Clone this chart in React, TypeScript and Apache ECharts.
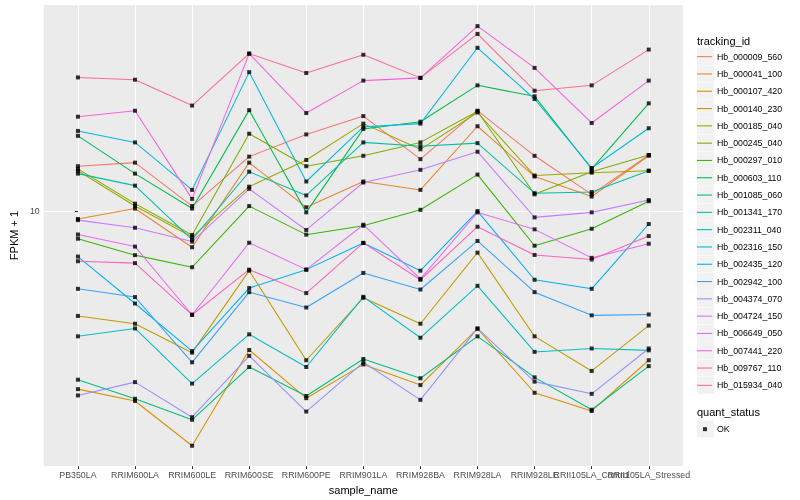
import React, { useEffect, useRef } from "react";
import * as echarts from "echarts";

const categories = [
  "PB350LA", "RRIM600LA", "RRIM600LE", "RRIM600SE", "RRIM600PE", "RRIM901LA",
  "RRIM928BA", "RRIM928LA", "RRIM928LE", "RRII105LA_Control", "RRII105LA_Stressed",
];

const hb_000009_560 = [14.2, 14.6, 10.4, 15.3, 18.2, 21.0, 15.0, 21.9, 15.4, 11.4, 15.5];
const hb_000041_100 = [9.4, 10.2, 7.54, 14.6, 10.3, 12.6, 11.8, 19.4, 13.1, 11.2, 15.4];
const hb_000107_420 = [2.49, 2.27, 1.6, 3.38, 2.32, 3.02, 2.57, 3.99, 2.42, 2.1, 3.12];
const hb_000140_230 = [4.41, 4.15, 3.31, 6.28, 3.12, 5.08, 4.15, 7.23, 3.76, 2.87, 4.09];
const hb_000185_040 = [13.7, 10.4, 8.17, 12.1, 14.9, 19.8, 16.2, 21.6, 13.2, 13.5, 13.7];
const hb_000245_040 = [13.9, 10.6, 8.3, 18.3, 14.2, 15.4, 17.1, 21.8, 11.4, 13.6, 15.5];
const hb_000297_010 = [8.06, 7.09, 6.45, 10.4, 8.32, 8.92, 10.1, 13.3, 7.63, 8.71, 10.8];
const hb_000603_110 = [18.0, 13.4, 10.2, 22.0, 9.9, 19.0, 20.1, 26.7, 24.5, 13.9, 23.2];
const hb_001085_060 = [2.68, 2.31, 1.96, 2.96, 2.36, 3.15, 2.71, 3.76, 2.73, 2.12, 2.98];
const hb_001341_170 = [13.4, 12.2, 8.0, 13.6, 11.3, 17.1, 16.6, 17.0, 11.5, 11.6, 13.7];
const hb_002311_040 = [3.76, 4.0, 2.6, 3.82, 2.96, 5.12, 3.72, 5.58, 3.33, 3.42, 3.37];
const hb_002316_150 = [18.7, 17.1, 11.8, 29.6, 12.6, 19.3, 19.8, 35.8, 24.0, 14.0, 19.1];
const hb_002435_120 = [7.01, 4.86, 3.35, 5.48, 6.33, 7.8, 6.28, 10.0, 5.85, 5.45, 9.04];
const hb_002942_100 = [5.45, 5.11, 3.07, 5.31, 4.71, 6.17, 5.42, 7.92, 5.31, 4.43, 4.46];
const hb_004374_070 = [2.37, 2.63, 2.0, 3.23, 2.09, 3.07, 2.29, 4.0, 2.64, 2.4, 3.42];
const hb_004724_150 = [9.32, 8.78, 7.88, 11.9, 8.63, 12.5, 13.8, 15.9, 9.52, 9.9, 10.9];
const hb_006649_050 = [8.33, 7.58, 4.45, 7.81, 6.33, 8.99, 5.89, 9.9, 8.67, 6.94, 7.75];
const hb_007441_220 = [20.9, 21.9, 11.0, 34.2, 21.5, 27.7, 28.3, 42.4, 30.6, 19.9, 27.7];
const hb_009767_110 = [6.76, 6.66, 4.45, 6.33, 5.27, 7.8, 5.85, 8.85, 7.1, 6.85, 8.23];
const hb_015934_040 = [28.4, 27.9, 22.8, 34.2, 29.4, 33.9, 28.3, 39.9, 25.6, 26.7, 35.3];

const trackingIds = [
  "Hb_000009_560", "Hb_000041_100", "Hb_000107_420", "Hb_000140_230", "Hb_000185_040",
  "Hb_000245_040", "Hb_000297_010", "Hb_000603_110", "Hb_001085_060", "Hb_001341_170",
  "Hb_002311_040", "Hb_002316_150", "Hb_002435_120", "Hb_002942_100", "Hb_004374_070",
  "Hb_004724_150", "Hb_006649_050", "Hb_007441_220", "Hb_009767_110", "Hb_015934_040",
];

const seriesValues = [
  hb_000009_560, hb_000041_100, hb_000107_420, hb_000140_230, hb_000185_040,
  hb_000245_040, hb_000297_010, hb_000603_110, hb_001085_060, hb_001341_170,
  hb_002311_040, hb_002316_150, hb_002435_120, hb_002942_100, hb_004374_070,
  hb_004724_150, hb_006649_050, hb_007441_220, hb_009767_110, hb_015934_040,
];

const colors = [
  "#F8766D", "#EA8331", "#D89000", "#C09B00", "#A3A500", "#7CAE00", "#39B600",
  "#00BB4E", "#00BF7D", "#00C1A3", "#00BFC4", "#00BAE0", "#00B0F6", "#35A2FF",
  "#9590FF", "#C77CFF", "#E76BF3", "#FA62DB", "#FF62BC", "#FF6C91",
];

const yTicks = [10];
const statusLabel = "OK";

const FONT = "Liberation Sans, Arial, Helvetica, sans-serif";

export default function App() {
  const ref = useRef<HTMLDivElement>(null);

  useEffect(() => {
    if (!ref.current) return;
    const chart = echarts.init(ref.current, undefined, { renderer: "svg" });

    const xMin = -0.6;
    const xMax = categories.length - 1 + 0.6;

    const lineSeries = trackingIds.map((name, i) => ({
      name,
      type: "line",
      color: colors[i],
      symbol: "none",
      lineStyle: { width: 1.05, color: colors[i] },
      data: seriesValues[i].map((v, j) => [j, v]),
      z: 2,
    }));

    const points: number[][] = [];
    seriesValues.forEach((vals) => vals.forEach((v, j) => points.push([j, v])));

    const legendTop = 48;
    const pitch = 17.3;
    const keyBoxes = trackingIds.map((_, i) => ({
      type: "rect",
      shape: { x: 697, y: legendTop + i * pitch, width: 17, height: 17 },
      style: { fill: "#F2F2F2" },
      z: -1,
    }));

    const catPositions = categories.map((_, i) => i);

    const option = {
      animation: false,
      textStyle: { fontFamily: FONT },
      grid: {
        left: 35, right: 117, top: 5, bottom: 32,
        show: true, backgroundColor: "#EBEBEB", borderWidth: 0,
      },
      xAxis: {
        type: "value",
        min: xMin,
        max: xMax,
        name: "sample_name",
        nameLocation: "middle",
        nameGap: 14,
        nameTextStyle: { fontSize: 11, color: "#000", fontFamily: FONT },
        axisLine: { show: false },
        axisTick: {
          show: true, length: 3, lineStyle: { color: "#333" },
          customValues: catPositions,
        },
        axisLabel: {
          customValues: [xMin, ...catPositions, xMax],
          formatter: (v: number) =>
            Number.isInteger(v) ? categories[v] ?? "" : "",
          fontSize: 8.8, color: "#4D4D4D", margin: 4, fontFamily: FONT,
          hideOverlap: false,
          showMinLabel: false,
          showMaxLabel: false,
        },
        splitLine: { show: true, lineStyle: { color: "#FFFFFF", width: 1.1 } },
      },
      yAxis: {
        type: "log",
        logBase: 10,
        min: 1.365,
        max: 50,
        name: "FPKM + 1",
        nameLocation: "middle",
        nameGap: 21,
        nameTextStyle: { fontSize: 11, color: "#000", fontFamily: FONT },
        axisLine: { show: false },
        axisTick: {
          show: true, length: 3, lineStyle: { color: "#333" },
          customValues: yTicks,
        },
        axisLabel: {
          customValues: yTicks,
          formatter: (v: number) => String(Math.round(v)),
          fontSize: 8.8, color: "#4D4D4D", margin: 4, fontFamily: FONT,
        },
        splitLine: { show: true, lineStyle: { color: "#FFFFFF", width: 1.1 } },
        minorSplitLine: { show: false },
      },
      legend: [
        {
          orient: "vertical",
          left: 697,
          top: legendTop,
          padding: 0,
          itemGap: 0,
          itemWidth: 15,
          itemHeight: 1.1,
          icon: "rect",
          selectedMode: false,
          data: trackingIds.map((n, i) => ({ name: n, itemStyle: { color: colors[i] } })),
          textStyle: { fontSize: 8.8, color: "#000", lineHeight: pitch, fontFamily: FONT },
        },
        {
          orient: "vertical",
          left: 703,
          top: 420.5,
          padding: 0,
          itemWidth: 4,
          itemHeight: 4,
          icon: "rect",
          selectedMode: false,
          data: [{ name: statusLabel, itemStyle: { color: "#000" } }],
          textStyle: {
            fontSize: 8.8, color: "#000", lineHeight: pitch,
            padding: [0, 0, 0, 5], fontFamily: FONT,
          },
        },
      ],
      graphic: [
        ...keyBoxes,
        {
          type: "rect",
          shape: { x: 697, y: 420.5, width: 17, height: 17 },
          style: { fill: "#F2F2F2" },
          z: -1,
        },
        {
          type: "text",
          x: 697,
          y: 41,
          style: { text: "tracking_id", fontSize: 11, fill: "#000", fontFamily: FONT, verticalAlign: "middle" },
        },
        {
          type: "text",
          x: 697,
          y: 412,
          style: { text: "quant_status", fontSize: 11, fill: "#000", fontFamily: FONT, verticalAlign: "middle" },
        },
      ],
      series: [
        ...lineSeries,
        {
          name: statusLabel,
          type: "scatter",
          symbol: "rect",
          symbolSize: 4,
          itemStyle: { color: "#000" },
          data: points,
          z: 3,
        },
      ],
    };

    chart.setOption(option as any);
    return () => chart.dispose();
  }, []);

  return (
    <div
      ref={ref}
      style={{ position: "fixed", left: 0, top: 0, width: 800, height: 500 }}
    />
  );
}
